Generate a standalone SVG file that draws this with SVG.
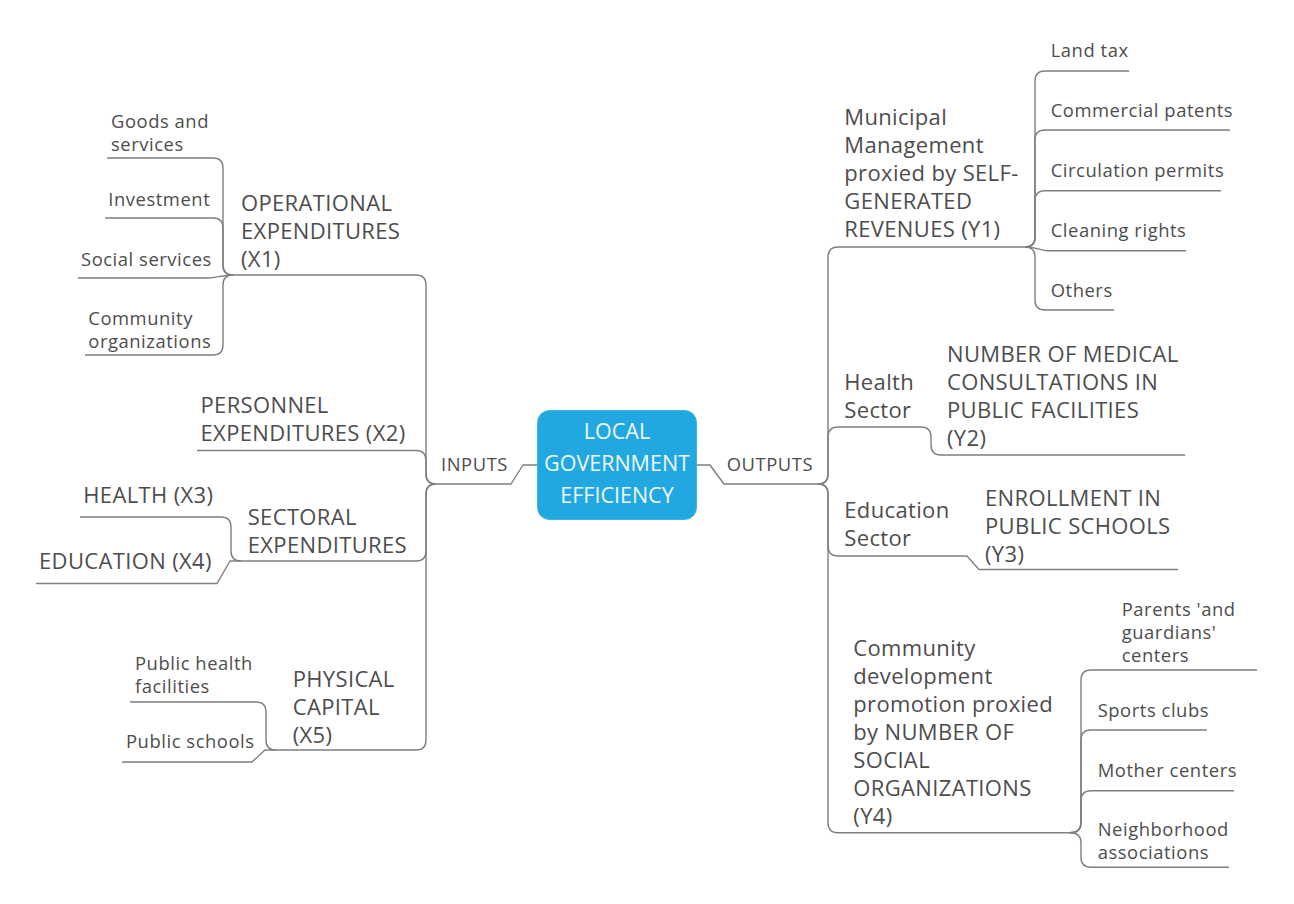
<svg xmlns="http://www.w3.org/2000/svg" width="1294" height="904" viewBox="0 0 1294 904">
<style>
.c{fill:none;stroke:#7f7f7f;stroke-width:1.4;stroke-linejoin:round}
.b{font-family:"Open Sans","Noto Sans","DejaVu Sans",sans-serif;font-size:22px;letter-spacing:0.35px;fill:#4d4d4d}
.s{font-family:"Open Sans","Noto Sans","DejaVu Sans",sans-serif;font-size:18.4px;letter-spacing:0.55px;fill:#4d4d4d}
.w{font-family:"Open Sans","Noto Sans","DejaVu Sans",sans-serif;font-size:21.5px;fill:#eef8fd;text-anchor:middle}
</style>
<rect width="1294" height="904" fill="#ffffff"/>
<g id="connectors">
<path class="c" d="M537 465 L523 465 L511 484 L436 484"/>
<path class="c" d="M697 465 L710 465 L724 484 L818 484"/>
<path class="c" d="M436 484 Q426 484 426 474 L426 285 Q426 275 416 275 L233 275"/>
<path class="c" d="M233 275 Q223 275 223 265 L223 168 Q223 158 213 158 L107 158"/>
<path class="c" d="M233 275 Q223 275 223 265 L223 228 Q223 218 213 218 L105 218"/>
<path class="c" d="M233 275 C222 275 216 278 208 278 L78 278"/>
<path class="c" d="M233 275 Q223 275 223 285 L223 345 Q223 355 213 355 L85 355"/>
<path class="c" d="M436 484 Q426 484 426 474 L426 460.5 Q426 450.5 416 450.5 L197 450.5"/>
<path class="c" d="M436 484 Q426 484 426 494 L426 551 Q426 561 416 561 L241 561"/>
<path class="c" d="M241 561 Q231 561 231 551 L231 527 Q231 517 221 517 L80 517"/>
<path class="c" d="M241 561 L230 561 L217 583.5 L36 583.5"/>
<path class="c" d="M436 484 Q426 484 426 494 L426 740 Q426 750 416 750 L276 750"/>
<path class="c" d="M276 750 Q266 750 266 740 L266 712 Q266 702 256 702 L130 702"/>
<path class="c" d="M276 750 L265 750 L252 762 L122 762"/>
<path class="c" d="M818 484 Q828 484 828 474 L828 257 Q828 247 838 247 L1025 247"/>
<path class="c" d="M1025 247 Q1035 247 1035 237 L1035 81 Q1035 71 1045 71 L1129 71"/>
<path class="c" d="M1025 247 Q1035 247 1035 237 L1035 140 Q1035 130 1045 130 L1230 130"/>
<path class="c" d="M1025 247 Q1035 247 1035 237 L1035 200.7 Q1035 190.7 1045 190.7 L1221 190.7"/>
<path class="c" d="M1025 247 C1036 247 1041 250.7 1048 250.7 L1186 250.7"/>
<path class="c" d="M1025 247 Q1035 247 1035 257 L1035 300 Q1035 310 1045 310 L1114 310"/>
<path class="c" d="M818 484 Q828 484 828 474 L828 437 Q828 427 838 427 L921 427 Q931 427 931 437 L931 445 Q931 455 941 455 L1185 455"/>
<path class="c" d="M818 484 Q828 484 828 494 L828 546 Q828 556 838 556 L967 556 L979 569.5 L1178 569.5"/>
<path class="c" d="M818 484 Q828 484 828 494 L828 822.7 Q828 832.7 838 832.7 L1070 832.7"/>
<path class="c" d="M1070 832.7 Q1081 832.7 1081 822.7 L1081 680 Q1081 670 1091 670 L1257 670"/>
<path class="c" d="M1070 832.7 Q1081 832.7 1081 822.7 L1081 740 Q1081 730 1091 730 L1207 730"/>
<path class="c" d="M1070 832.7 Q1081 832.7 1081 822.7 L1081 800.7 Q1081 790.7 1091 790.7 L1234 790.7"/>
<path class="c" d="M1070 832.7 Q1081 832.7 1081 842.7 L1081 857.3 Q1081 867.3 1091 867.3 L1229 867.3"/>
</g>
<g id="center">
<rect x="537.5" y="410.5" width="159" height="109" rx="12" fill="#22a8e0" stroke="#3fb3e4" stroke-width="1"/>
<text class="w"><tspan x="617" y="439">LOCAL</tspan><tspan x="617" y="471">GOVERNMENT</tspan><tspan x="617" y="502.5">EFFICIENCY</tspan></text>
</g>
<g id="inputs"><text class="s" x="441" y="470.7">INPUTS</text></g>
<g id="outputs"><text class="s" x="726.7" y="470.7">OUTPUTS</text></g>
<g id="x1"><text class="b"><tspan x="241" y="210.5">OPERATIONAL</tspan><tspan x="241" y="238.5">EXPENDITURES</tspan><tspan x="241" y="266.5">(X1)</tspan></text></g>
<g id="goods"><text class="s"><tspan x="111" y="127.7">Goods and</tspan><tspan x="111" y="150.7">services</tspan></text></g>
<g id="investment"><text class="s" x="108.3" y="206">Investment</text></g>
<g id="social"><text class="s" x="81" y="265.7">Social services</text></g>
<g id="community"><text class="s"><tspan x="88.3" y="325">Community</tspan><tspan x="88.3" y="348">organizations</tspan></text></g>
<g id="x2"><text class="b"><tspan x="200.5" y="413.4">PERSONNEL</tspan><tspan x="200.5" y="441.4">EXPENDITURES (X2)</tspan></text></g>
<g id="sectoral"><text class="b"><tspan x="247.7" y="524.8">SECTORAL</tspan><tspan x="247.7" y="552.8">EXPENDITURES</tspan></text></g>
<g id="x3"><text class="b" x="83.3" y="503.3">HEALTH (X3)</text></g>
<g id="x4"><text class="b" x="39" y="569.3">EDUCATION (X4)</text></g>
<g id="x5"><text class="b"><tspan x="292.7" y="687.4">PHYSICAL</tspan><tspan x="292.7" y="715.4">CAPITAL</tspan><tspan x="292.7" y="743.4">(X5)</tspan></text></g>
<g id="phf"><text class="s"><tspan x="135" y="670">Public health</tspan><tspan x="135" y="693">facilities</tspan></text></g>
<g id="pschools"><text class="s" x="126" y="748.3">Public schools</text></g>
<g id="y1"><text class="b"><tspan x="844.3" y="124.8">Municipal</tspan><tspan x="844.3" y="152.8">Management</tspan><tspan x="844.3" y="180.8">proxied by SELF-</tspan><tspan x="844.3" y="208.8">GENERATED</tspan><tspan x="844.3" y="236.8">REVENUES (Y1)</tspan></text></g>
<g id="landtax"><text class="s" x="1050.7" y="56.7">Land tax</text></g>
<g id="commercial"><text class="s" x="1050.7" y="117.3">Commercial patents</text></g>
<g id="circulation"><text class="s" x="1050.7" y="176.7">Circulation permits</text></g>
<g id="cleaning"><text class="s" x="1050.7" y="236.7">Cleaning rights</text></g>
<g id="others"><text class="s" x="1050.7" y="296.7">Others</text></g>
<g id="health"><text class="b"><tspan x="844.3" y="389.8">Health</tspan><tspan x="844.3" y="417.8">Sector</tspan></text></g>
<g id="y2"><text class="b"><tspan x="947" y="362">NUMBER OF MEDICAL</tspan><tspan x="947" y="390">CONSULTATIONS IN</tspan><tspan x="947" y="418">PUBLIC FACILITIES</tspan><tspan x="947" y="446">(Y2)</tspan></text></g>
<g id="education"><text class="b"><tspan x="844.3" y="518.2">Education</tspan><tspan x="844.3" y="546.2">Sector</tspan></text></g>
<g id="y3"><text class="b"><tspan x="985" y="506">ENROLLMENT IN</tspan><tspan x="985" y="534">PUBLIC SCHOOLS</tspan><tspan x="985" y="562">(Y3)</tspan></text></g>
<g id="y4"><text class="b"><tspan x="853.3" y="656.1">Community</tspan><tspan x="853.3" y="684.1">development</tspan><tspan x="853.3" y="712.1">promotion proxied</tspan><tspan x="853.3" y="740.1">by NUMBER OF</tspan><tspan x="853.3" y="768.1">SOCIAL</tspan><tspan x="853.3" y="796.1">ORGANIZATIONS</tspan><tspan x="853.3" y="824.1">(Y4)</tspan></text></g>
<g id="parents"><text class="s"><tspan x="1121.7" y="616">Parents 'and</tspan><tspan x="1121.7" y="639">guardians'</tspan><tspan x="1121.7" y="662">centers</tspan></text></g>
<g id="sports"><text class="s" x="1097.7" y="716.7">Sports clubs</text></g>
<g id="mother"><text class="s" x="1097.7" y="776.7">Mother centers</text></g>
<g id="neighborhood"><text class="s"><tspan x="1097.7" y="836">Neighborhood</tspan><tspan x="1097.7" y="859">associations</tspan></text></g>
</svg>
